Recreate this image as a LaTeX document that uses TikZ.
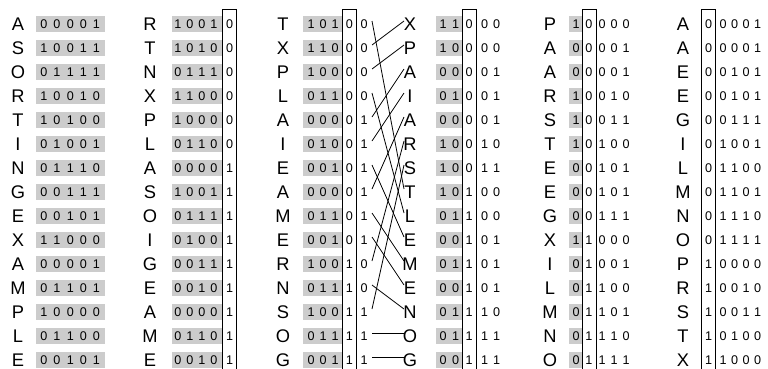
\documentclass[tikz,border=0pt]{standalone}
\usepackage{fontspec}
\setmainfont{Liberation Sans}
\def\codeA{00001}\def\codeE{00101}\def\codeG{00111}\def\codeI{01001}
\def\codeL{01100}\def\codeM{01101}\def\codeN{01110}\def\codeO{01111}
\def\codeP{10000}\def\codeR{10010}\def\codeS{10011}\def\codeT{10100}
\def\codeX{11000}
\def\getbits#1#2#3#4#5{\def\ba{#1}\def\bb{#2}\def\bc{#3}\def\bd{#4}\def\be{#5}}
\def\getpos#1,#2,#3,#4,#5\relax{\def\pa{#1}\def\pb{#2}\def\pc{#3}\def\pd{#4}\def\pe{#5}}
\newcommand\radixcol[6]{%
  \getpos#6\relax
  \foreach \L [count=\i from 0] in {#2} {%
    \pgfmathsetmacro\yy{24+24*\i}%
    \fill[graycell] (#4,\yy-8) rectangle (#5,\yy+8);
    \node[letter] (#1-\i) at (#3,\yy+6.1) {\L};
    \edef\tmp{\csname code\L\endcsname}%
    \expandafter\getbits\tmp
    \node[digit] (#1-\i-a) at (\pa,\yy+4.5) {\ba};
    \node[digit] (#1-\i-b) at (\pb,\yy+4.5) {\bb};
    \node[digit] (#1-\i-c) at (\pc,\yy+4.5) {\bc};
    \node[digit] (#1-\i-d) at (\pd,\yy+4.5) {\bd};
    \node[digit] (#1-\i-e) at (\pe,\yy+4.5) {\be};
  }}
\newcommand\bitbox[1]{%
  \draw[rule] (#1,369) |- (#1+14,9.5) -- (#1+14,369);}
\begin{document}
\begin{tikzpicture}[x=1pt,y=-1pt,
  letter/.style={font=\fontsize{18.3}{20}\selectfont,anchor=base,inner sep=0pt},
  digit/.style={font=\fontsize{12.6}{14}\selectfont,anchor=base,inner sep=0pt},
  graycell/.style={fill=black!20},
  rule/.style={draw=black,line width=0.8pt},
  perm/.style={draw=black,line width=0.8pt}]
\useasboundingbox (0,0) rectangle (768,368);
\radixcol{c1}{A,S,O,R,T,I,N,G,E,X,A,M,P,L,E}{18}{36}{105}{44,57,70.5,83.5,96.5}
\radixcol{c2}{R,T,N,X,P,L,A,S,O,I,G,E,A,M,E}{150}{172}{222.7}{178,190,202,214,229.7}
\radixcol{c3}{T,X,P,L,A,I,E,A,M,E,R,N,S,O,G}{283}{303.3}{342.45}{311,323,335,349.45,364}
\radixcol{c4}{X,P,A,I,A,R,S,T,L,E,M,E,N,O,G}{410}{436}{462.2}{443,455.5,469.2,484.5,496.5}
\radixcol{c5}{P,A,A,R,S,T,E,E,G,X,I,L,M,N,O}{550}{569.3}{581.95}{576,588.95,602,614,626}
\radixcol{c6}{A,A,E,E,G,I,L,M,N,O,P,R,S,T,X}{683}{701.7}{701.7}{708.7,723,734.5,746,757.5}
\bitbox{222.7}
\bitbox{342.45}
\bitbox{462.2}
\bitbox{581.95}
\bitbox{701.7}
\foreach \i in {0,...,14} {
  \coordinate (s-\i) at (372,21+24*\i);
  \coordinate (t-\i) at (404,21+24*\i);
}
\foreach \a/\b in {0/7,1/0,2/1,3/8,4/2,5/3,6/9,7/4,8/10,9/11,10/5,11/12,12/6,13/13,14/14}
  \draw[perm] (s-\a) -- (t-\b);
\end{tikzpicture}
\end{document}
